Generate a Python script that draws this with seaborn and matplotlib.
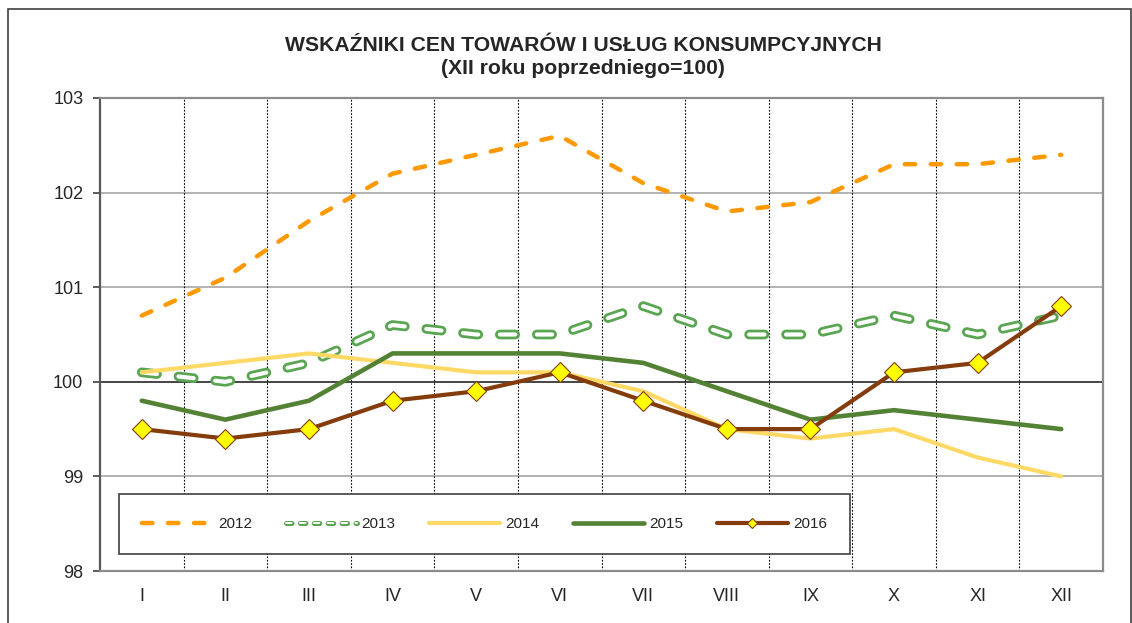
import matplotlib
matplotlib.use("Agg")
import matplotlib.pyplot as plt
import seaborn as sns
import pandas as pd
from matplotlib.lines import Line2D
from matplotlib.patches import Rectangle
from matplotlib.legend_handler import HandlerTuple

months = ["I", "II", "III", "IV", "V", "VI", "VII", "VIII", "IX", "X", "XI", "XII"]
v2012 = [100.7, 101.1, 101.7, 102.2, 102.4, 102.6, 102.1, 101.8, 101.9, 102.3, 102.3, 102.4]
v2013 = [100.1, 100.0, 100.2, 100.6, 100.5, 100.5, 100.8, 100.5, 100.5, 100.7, 100.5, 100.7]
v2014 = [100.1, 100.2, 100.3, 100.2, 100.1, 100.1, 99.9, 99.5, 99.4, 99.5, 99.2, 99.0]
v2015 = [99.8, 99.6, 99.8, 100.3, 100.3, 100.3, 100.2, 99.9, 99.6, 99.7, 99.6, 99.5]
v2016 = [99.5, 99.4, 99.5, 99.8, 99.9, 100.1, 99.8, 99.5, 99.5, 100.1, 100.2, 100.8]
y_ticks = [98, 99, 100, 101, 102, 103]
title = "WSKAŹNIKI CEN TOWARÓW I USŁUG KONSUMPCYJNYCH\n(XII roku poprzedniego=100)"

sns.set_style("white")
plt.rcParams["font.family"] = ["Liberation Sans", "DejaVu Sans"]
plt.rcParams["lines.scale_dashes"] = False

GREEN13 = "#5aa552"

df = pd.DataFrame({"m": range(len(months)), "2012": v2012, "2013": v2013,
                   "2014": v2014, "2015": v2015, "2016": v2016})

fig = plt.figure(figsize=(11.32, 6.23), dpi=100)
ax = fig.add_axes([100 / 1132, 52 / 623, 1003 / 1132, 473 / 623])

# grid
for y in [99, 101, 102]:
    ax.axhline(y, color="#a6a6a6", lw=1.2, zorder=1)
ax.axhline(100, color="#262626", lw=1.2, zorder=1)
for i in range(len(months) - 1):
    ax.axvline(i + 0.5, color="black", lw=0.8, linestyle=(0, (1.2, 1.2)), zorder=1)

# series
sns.lineplot(data=df, x="m", y="2012", ax=ax, color="#ff9900", lw=3.2,
             dash_capstyle="round", errorbar=None, zorder=3)
l12 = ax.lines[-1]
l12.set_linestyle((0, (7.5, 11.2)))

# 2013: hollow dashes = thick green dashes with thin white dashes on top
sns.lineplot(data=df, x="m", y="2013", ax=ax, color=GREEN13, lw=7,
             dash_capstyle="round", errorbar=None, zorder=3)
ax.lines[-1].set_linestyle((0, (11, 15.6)))
sns.lineplot(data=df, x="m", y="2013", ax=ax, color="white", lw=3,
             dash_capstyle="round", errorbar=None, zorder=3.1)
ax.lines[-1].set_linestyle((0, (11, 15.6)))

sns.lineplot(data=df, x="m", y="2014", ax=ax, color="#ffd966", lw=3,
             errorbar=None, zorder=3.2)
l14 = ax.lines[-1]
sns.lineplot(data=df, x="m", y="2015", ax=ax, color="#548235", lw=3.3,
             errorbar=None, zorder=3.3)
l15 = ax.lines[-1]
sns.lineplot(data=df, x="m", y="2016", ax=ax, color="#843c0c", lw=3,
             marker="D", markersize=10.5, markerfacecolor="#ffff00",
             markeredgecolor="#843c0c", markeredgewidth=0.8,
             errorbar=None, zorder=3.4)
l16 = ax.lines[-1]

ax.set_xlim(-0.5, len(months) - 0.5)
ax.set_ylim(98, 103)
ax.set_xticks(range(len(months)))
ax.set_xticklabels(months, fontsize=13)
ax.set_yticks(y_ticks)
ax.set_yticklabels([str(t) for t in y_ticks], fontsize=13)
ax.tick_params(axis="x", length=0, pad=12)
ax.tick_params(axis="y", length=5, width=1.2, color="#404040", pad=7, left=True)
ax.set_xlabel("")
ax.set_ylabel("")
for side in ["top", "right", "bottom"]:
    ax.spines[side].set_color("#8c8c8c")
    ax.spines[side].set_linewidth(1.6)
ax.spines["left"].set_color("#595959")
ax.spines["left"].set_linewidth(1.6)

# legend (smaller hollow pills for 2013 as in the original)
h13a = Line2D([], [], color=GREEN13, lw=3.6, dash_capstyle="round",
              linestyle=(0, (4, 6)))
h13b = Line2D([], [], color="white", lw=1.4, dash_capstyle="round",
              linestyle=(0, (4, 6)))
handles = [l12, (h13a, h13b), l14, l15, l16]
labels = ["2012", "2013", "2014", "2015", "2016"]
leg = ax.legend(handles, labels, ncol=5, loc="lower left",
                bbox_to_anchor=(19 / 1003, 17 / 473),
                handlelength=4.65, handletextpad=0.33, columnspacing=2.2,
                borderpad=1.5, borderaxespad=0, fancybox=False, framealpha=1,
                numpoints=1, markerscale=0.5, fontsize=11,
                handler_map={tuple: HandlerTuple(ndivide=1)})
leg.get_frame().set_edgecolor("#404040")
leg.get_frame().set_linewidth(1.2)
leg.set_zorder(5)

fig.text(583 / 1132, 1 - 57 / 623, title, ha="center", va="center",
         fontsize=15.2, fontweight="bold", linespacing=1.3)

# outer frame
fig.add_artist(Rectangle((8 / 1132, -0.1), (1131 - 8) / 1132, 1.1 - 9 / 623,
                         transform=fig.transFigure, fill=False,
                         edgecolor="#404040", lw=1.2))

fig.savefig("out.png", dpi=100)
